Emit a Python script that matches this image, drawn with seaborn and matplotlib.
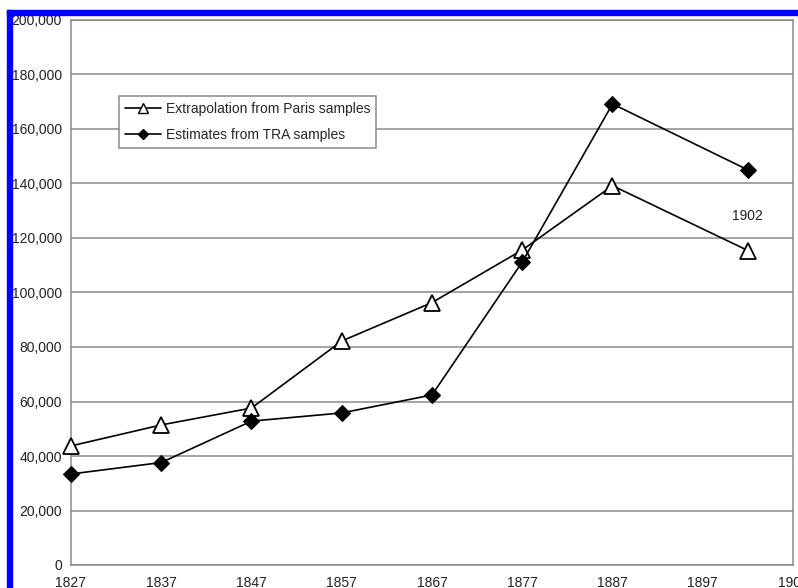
import matplotlib
matplotlib.use("Agg")
import matplotlib.pyplot as plt
import seaborn as sns
import pandas as pd
from matplotlib.patches import Rectangle
from matplotlib.ticker import FuncFormatter
from matplotlib.lines import Line2D

years = [1827, 1837, 1847, 1857, 1867, 1877, 1887, 1902]
paris = [43700, 51400, 57600, 82200, 96300, 115600, 139200, 115400]
tra = [33400, 37600, 52800, 55800, 62400, 111200, 169200, 145000]
series_names = ["Extrapolation from Paris samples", "Estimates from TRA samples"]
x_ticks = [1827, 1837, 1847, 1857, 1867, 1877, 1887, 1897, 1907]
y_ticks = [0, 20000, 40000, 60000, 80000, 100000, 120000, 140000, 160000, 180000, 200000]

df = pd.DataFrame({"year": years * 2,
                   "value": paris + tra,
                   "series": [series_names[0]] * len(years) + [series_names[1]] * len(years)})

sns.set_style("white")
plt.rcParams['font.family'] = ['Liberation Sans', 'DejaVu Sans']

fig = plt.figure(figsize=(7.98, 5.88), dpi=100)
ax = fig.add_axes([71 / 798, 1 - 565 / 588, (793 - 71) / 798, (565 - 20) / 588])

sns.lineplot(data=df, x="year", y="value", hue="series", style="series",
             markers={series_names[0]: "^", series_names[1]: "D"},
             dashes=False, palette={series_names[0]: "black", series_names[1]: "black"},
             ax=ax, linewidth=1.2, legend=False)

lines = ax.get_lines()
lines[0].set_markersize(11)
lines[0].set_markerfacecolor("white")
lines[0].set_markeredgecolor("black")
lines[0].set_markeredgewidth(1.3)
lines[1].set_markersize(8.5)
lines[1].set_markerfacecolor("black")
lines[1].set_markeredgecolor("black")
for ln in lines:
    ln.set_clip_on(False)
    ln.set_zorder(5)

ax.set_xlim(1827, 1907)
ax.set_ylim(0, 200000)
ax.set_xticks(x_ticks)
ax.set_yticks(y_ticks)
ax.yaxis.set_major_formatter(FuncFormatter(lambda v, p: "0" if v == 0 else f"{int(v):,}"))
ax.set_xlabel("")
ax.set_ylabel("")
ax.grid(axis="y", color="#8a8a8a", linewidth=1.1)
ax.set_axisbelow(True)
for s in ["left", "bottom", "right", "top"]:
    ax.spines[s].set_color("#8a8a8a")
    ax.spines[s].set_linewidth(1.1)
ax.tick_params(axis="both", which="both", direction="out", length=3, width=1,
               color="#8a8a8a", labelsize=10, labelcolor="#222222")
ax.tick_params(axis="y", pad=3.5)
ax.tick_params(axis="x", pad=5)

ax.text(1902, 128000, "1902", ha="center", va="center", fontsize=10, color="#222222")

handles = [Line2D([0], [0], color="black", lw=1.2, marker="^", markersize=7,
                  markerfacecolor="white", markeredgecolor="black"),
           Line2D([0], [0], color="black", lw=1.2, marker="D", markersize=5,
                  markerfacecolor="black")]
leg = ax.legend(handles, series_names, loc="upper left",
                bbox_to_anchor=((119 - 71) / 722, (565 - 96) / 545),
                fontsize=10, frameon=True, fancybox=False, framealpha=1,
                edgecolor="#8a8a8a", handlelength=2.6, borderpad=0.45,
                labelspacing=0.85, handletextpad=0.3, borderaxespad=0)
leg.get_frame().set_linewidth(1.1)

fig.add_artist(Rectangle((7 / 798, 0), 5 / 798, 1 - 10 / 588, transform=fig.transFigure,
                         color="#0000ff", zorder=10))
fig.add_artist(Rectangle((7 / 798, 1 - 15 / 588), 1, 5 / 588, transform=fig.transFigure,
                         color="#0000ff", zorder=10))

fig.savefig("out.png", dpi=100)
